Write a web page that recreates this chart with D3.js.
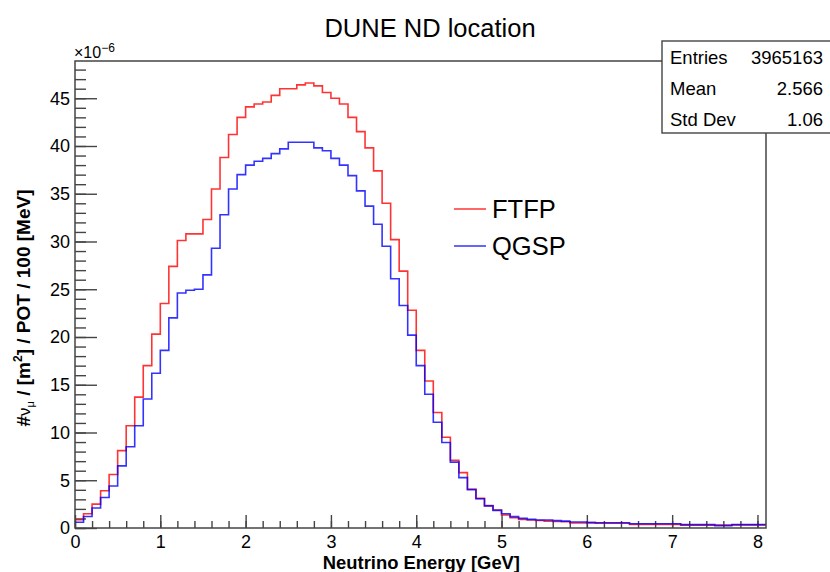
<!DOCTYPE html>
<html>
<head>
<meta charset="utf-8">
<script src="https://cdn.jsdelivr.net/npm/d3@7"></script>
<style>
  body { margin: 0; background: #fff; }
  text { font-family: "Liberation Sans", Arial, Helvetica, sans-serif; fill: #000; }
</style>
</head>
<body>
<div id="chart"></div>
<script>
// histogram settings (100 MeV bins from 0 to 8.1 GeV)
const binWidth = 0.1
const xMax = 8.1
const yMax = 48.9

// bin contents, units of 1e-6
const ftfp = [0.87, 1.5, 2.5, 3.9, 5.6, 8.1, 10.7, 13.7, 17.0, 20.3,
  23.5, 27.4, 30.1, 30.8, 30.8, 32.3, 35.5, 38.8, 41.2, 43.0,
  44.1, 44.4, 44.6, 45.3, 46.0, 46.0, 46.4, 46.6, 46.3, 45.6,
  45.0, 44.4, 43.0, 41.5, 39.8, 37.4, 34.0, 30.2, 26.9, 22.8,
  18.6, 15.4, 12.1, 9.5, 7.1, 5.8, 4.05, 3.1, 2.34, 1.88,
  1.36, 1.08, 0.9, 0.83, 0.78, 0.72, 0.68, 0.66, 0.53, 0.53,
  0.56, 0.5, 0.5, 0.5, 0.5, 0.38, 0.38, 0.38, 0.38, 0.38,
  0.38, 0.3, 0.3, 0.3, 0.3, 0.3, 0.3, 0.33, 0.33, 0.33, 0.33]
const qgsp = [0.6, 1.2, 2.1, 3.2, 4.4, 6.5, 8.5, 10.7, 13.5, 16.2,
  18.6, 22.0, 24.6, 24.9, 25.0, 26.5, 29.3, 32.8, 35.5, 37.0,
  38.0, 38.4, 38.7, 39.2, 39.7, 40.4, 40.4, 40.4, 39.8, 39.5,
  38.7, 38.0, 36.9, 35.3, 33.7, 31.8, 29.5, 26.1, 23.3, 20.2,
  17.0, 14.0, 11.07, 8.95, 6.9, 5.27, 4.02, 3.07, 2.32, 1.85,
  1.5, 1.19, 1.01, 0.9, 0.83, 0.83, 0.77, 0.72, 0.63, 0.63,
  0.56, 0.55, 0.55, 0.55, 0.55, 0.45, 0.45, 0.45, 0.45, 0.45,
  0.45, 0.35, 0.35, 0.35, 0.35, 0.25, 0.25, 0.35, 0.35, 0.35, 0.35]

const xTicks = [0, 1, 2, 3, 4, 5, 6, 7, 8]
const yTicks = [0, 5, 10, 15, 20, 25, 30, 35, 40, 45]
const statNames = ['Entries', 'Mean', 'Std Dev']
const statValues = ['3965163', '2.566', '1.06']
const seriesNames = ['FTFP', 'QGSP']
const seriesColors = ['#ff0000', '#0000ff']

const width = 830
const height = 572
const plotLeft = 75, plotRight = 766, plotTop = 61, plotBottom = 528

let svg = d3.select('#chart')
  .append('svg')
  .attr('width', width)
  .attr('height', height)

const x = d3.scaleLinear().domain([0, xMax]).range([plotLeft, plotRight])
const y = d3.scaleLinear().domain([0, yMax]).range([plotBottom, plotTop])

// title
svg.append('text')
  .attr('x', 430)
  .attr('y', 37)
  .attr('text-anchor', 'middle')
  .style('font-size', '25.5px')
  .text('DUNE ND location')

// minor ticks first, then major ones with labels
const axisColor = '#444'
let yMinor = svg.append('g')
  .attr('transform', `translate(${plotLeft},0)`)
  .call(d3.axisLeft(y).tickValues(d3.range(0, 49, 1)).tickSizeInner(-11).tickSizeOuter(0).tickFormat(''))
let yMajor = svg.append('g')
  .attr('transform', `translate(${plotLeft},0)`)
  .call(d3.axisLeft(y).tickValues(yTicks).tickSizeInner(-22).tickSizeOuter(0).tickPadding(5))
let xMinor = svg.append('g')
  .attr('transform', `translate(0,${plotBottom})`)
  .call(d3.axisBottom(x).tickValues(d3.range(0, 8.1, 0.2)).tickSizeInner(-7).tickSizeOuter(0).tickFormat(''))
let xMajor = svg.append('g')
  .attr('transform', `translate(0,${plotBottom})`)
  .call(d3.axisBottom(x).tickValues(xTicks).tickSizeInner(-13).tickSizeOuter(0).tickPadding(7))

;[yMinor, yMajor, xMinor, xMajor].forEach(g => {
  g.select('.domain').remove()
  g.selectAll('line').attr('stroke', axisColor).attr('stroke-width', 1.4)
  g.selectAll('text')
    .style('font-size', '18px')
    .style('font-family', '"Liberation Sans", Arial, sans-serif')
    .attr('fill', '#000')
})

// histograms as step outlines
const step = d3.line()
  .x(d => x(d[0]))
  .y(d => y(d[1]))
  .curve(d3.curveStepAfter)

;[ftfp, qgsp].forEach((vals, k) => {
  let pts = vals.map((v, i) => [i * binWidth, v])
  pts.push([xMax, vals[vals.length - 1]])
  svg.append('path')
    .attr('d', step(pts))
    .attr('fill', 'none')
    .attr('stroke', seriesColors[k])
    .attr('stroke-opacity', 0.8)
    .attr('stroke-width', 1.6)
})

// frame
svg.append('rect')
  .attr('x', plotLeft)
  .attr('y', plotTop)
  .attr('width', plotRight - plotLeft)
  .attr('height', plotBottom - plotTop)
  .attr('fill', 'none')
  .attr('stroke', axisColor)
  .attr('stroke-width', 1.5)

// exponent label
let expo = svg.append('text')
  .attr('x', 74)
  .attr('y', 58)
  .style('font-size', '16px')
expo.append('tspan').text('\u00d710')
expo.append('tspan').attr('dy', -6).style('font-size', '12px').text('\u22126')

// y axis title
let yTitle = svg.append('text')
  .attr('transform', 'translate(30,308) rotate(-90)')
  .attr('text-anchor', 'middle')
  .style('font-size', '19px')
  .style('font-weight', 'bold')
yTitle.append('tspan').text('#')
yTitle.append('tspan').style('font-weight', 'normal').style('font-size', '17px').text('\u03bd')
yTitle.append('tspan').attr('dy', 4).style('font-weight', 'normal').style('font-size', '11px').text('\u03bc')
yTitle.append('tspan').attr('dy', -4).text(' / [m')
yTitle.append('tspan').attr('dy', -8).style('font-size', '12px').text('2')
yTitle.append('tspan').attr('dy', 8).text('] / POT / 100 [MeV]')

// x axis title
svg.append('text')
  .attr('x', 520)
  .attr('y', 569)
  .attr('text-anchor', 'end')
  .style('font-size', '18.4px')
  .style('font-weight', 'bold')
  .text('Neutrino Energy [GeV]')

// legend
let legend = svg.append('g').attr('class', 'legend')
seriesNames.forEach((name, i) => {
  const ly = 209 + i * 37
  legend.append('line')
    .attr('x1', 454).attr('x2', 486)
    .attr('y1', ly).attr('y2', ly)
    .attr('stroke', seriesColors[i])
    .attr('stroke-opacity', 0.8)
    .attr('stroke-width', 1.5)
  legend.append('text')
    .attr('x', 492)
    .attr('y', ly)
    .attr('dy', '0.36em')
    .style('font-size', '25.5px')
    .text(name)
})

// stats box
let stats = svg.append('g').attr('class', 'stats')
stats.append('rect')
  .attr('x', 662)
  .attr('y', 41)
  .attr('width', 172)
  .attr('height', 92)
  .attr('fill', '#fff')
  .attr('stroke', axisColor)
  .attr('stroke-width', 1.4)
statNames.forEach((name, i) => {
  const sy = 57 + i * 31
  stats.append('text')
    .attr('x', 670).attr('y', sy).attr('dy', '0.36em')
    .style('font-size', '18.5px')
    .text(name)
  stats.append('text')
    .attr('x', 823).attr('y', sy).attr('dy', '0.36em')
    .attr('text-anchor', 'end')
    .style('font-size', '18.5px')
    .text(statValues[i])
})
</script>
</body>
</html>
